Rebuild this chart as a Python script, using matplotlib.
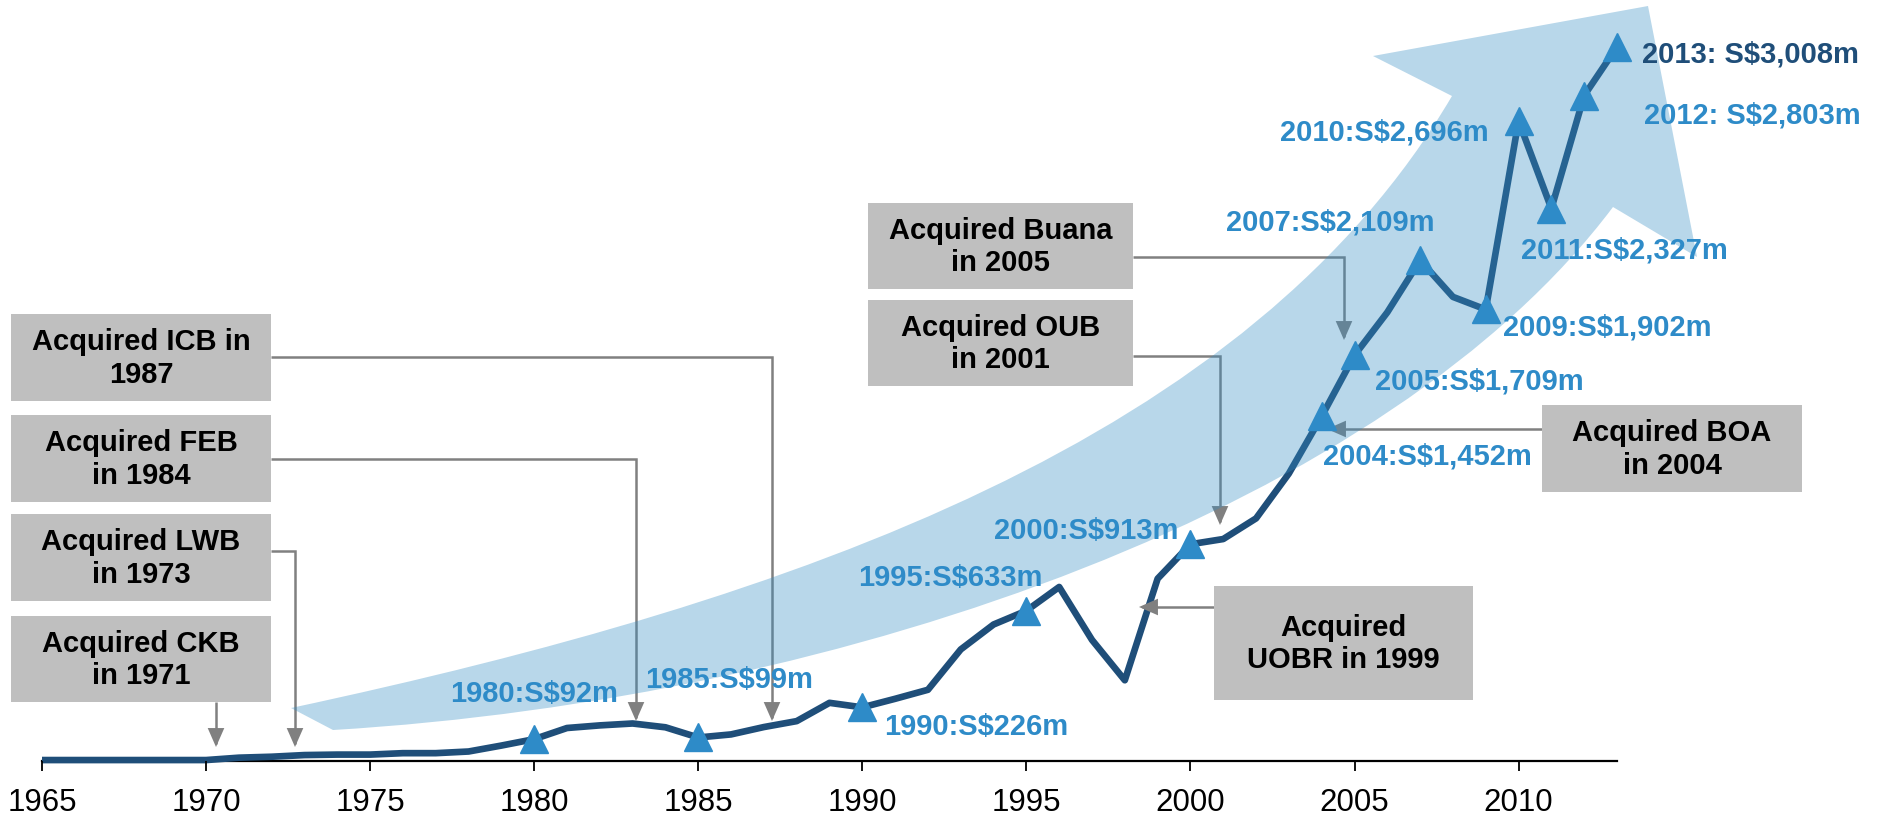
import matplotlib
matplotlib.use("Agg")
import matplotlib.pyplot as plt
from matplotlib.path import Path
from matplotlib.patches import PathPatch, Rectangle, FancyArrowPatch

plt.rcParams['font.family'] = ['Liberation Sans', 'DejaVu Sans']

# ---------------- data ----------------
years = list(range(1965, 2014))
profit = [4, 4, 4, 4, 4, 4, 14, 18, 25, 27,
          27, 33, 33, 40, 65, 92, 139, 150, 158, 142,
          99, 112, 143, 168, 245, 226, 262, 300, 470, 575,
          633, 733, 510, 340, 768, 913, 935, 1022, 1211, 1452,
          1709, 1890, 2109, 1955, 1902, 2696, 2327, 2803, 3008]

marker_years = [1980, 1985, 1990, 1995, 2000, 2004, 2005, 2007, 2009, 2010, 2011, 2012, 2013]
marker_labels = ["1980:S$92m", "1985:S$99m", "1990:S$226m", "1995:S$633m", "2000:S$913m",
                 "2004:S$1,452m", "2005:S$1,709m", "2007:S$2,109m", "2009:S$1,902m",
                 "2010:S$2,696m", "2011:S$2,327m", "2012: S$2,803m", "2013: S$3,008m"]

tick_years = [1965, 1970, 1975, 1980, 1985, 1990, 1995, 2000, 2005, 2010]

box_texts = ["Acquired ICB in\n1987", "Acquired FEB\nin 1984", "Acquired LWB\nin 1973",
             "Acquired CKB\nin 1971", "Acquired Buana\nin 2005", "Acquired OUB\nin 2001",
             "Acquired\nUOBR in 1999", "Acquired BOA\nin 2004"]

# ---------------- layout / style ----------------
W, H = 1879, 820
LINE_C = '#1F4E79'
MARK_C = '#2E8BC8'
BAND_C = '#348DC3'
GRAY_BOX = '#BFBFBF'
GRAY_LN = '#808080'

fig = plt.figure(figsize=(W / 100, H / 100), dpi=100)
ax = fig.add_axes([0, 0, 1, 1])

X0_PX, X1_PX = 42, 1617          # pixel x of 1965 and 2013
ZERO_PX = 762                    # pixel y (from top) of value 0
PPV = 0.2374                     # pixels per S$m
ppy = (X1_PX - X0_PX) / (2013 - 1965)
ax.set_xlim(1965 - X0_PX / ppy, 2013 + (W - X1_PX) / ppy)
ax.set_ylim(-(H - ZERO_PX) / PPV, ZERO_PX / PPV)


def fp(x, y):
    return (x / W, 1 - y / H)


# axis styling
for s in ['top', 'left', 'right']:
    ax.spines[s].set_visible(False)
ax.spines['bottom'].set_position(('data', 0))
ax.spines['bottom'].set_bounds(1965, 2013)
ax.spines['bottom'].set_linewidth(1.6)
ax.spines['bottom'].set_zorder(1)
ax.set_xticks(tick_years)
ax.set_xticklabels([str(t) for t in tick_years],
                   fontfamily=['Liberation Sans Narrow', 'Liberation Sans'],
                   fontsize=22.5)
ax.set_yticks([])
ax.tick_params(axis='x', direction='out', length=7.5, width=1.3, pad=11.5,
               colors='black')

# main line
ax.plot(years, profit, color=LINE_C, lw=4.8, zorder=1.5, solid_joinstyle='round',
        solid_capstyle='butt')

# connectors (elbow arrows), pixel paths
connectors = [
    [(271, 358), (772, 358), (772, 722)],
    [(271, 460), (636, 460), (636, 722)],
    [(271, 552), (295, 552), (295, 748)],
    [(216, 703), (216, 748)],
    [(1133, 258), (1344, 258), (1344, 341)],
    [(1133, 357), (1220, 357), (1220, 526)],
    [(1214, 608), (1139, 608)],
    [(1542, 430), (1327, 430)],
]
for pts in connectors:
    verts = [fp(*p) for p in pts]
    codes = [Path.MOVETO] + [Path.LINETO] * (len(verts) - 1)
    arr = FancyArrowPatch(path=Path(verts, codes),
                          arrowstyle='-|>,head_length=10.5,head_width=4.6',
                          mutation_scale=1, color=GRAY_LN, lw=1.8,
                          transform=fig.transFigure, zorder=1.6,
                          joinstyle='miter', capstyle='butt')
    ax.add_patch(arr)

# big background arrow (semi-transparent band)
A = (291, 709); B = (333, 731)
N1 = (1452, 97); P1 = (1373, 57); T = (1648, 7); P2 = (1697, 258); N2 = (1613, 208)
band_verts = [A, (800, 600), (1250, 440), N1, P1, T, P2, N2,
              (1390, 505), (850, 700), B, A]
band_codes = [Path.MOVETO, Path.CURVE4, Path.CURVE4, Path.CURVE4,
              Path.LINETO, Path.LINETO, Path.LINETO, Path.LINETO,
              Path.CURVE4, Path.CURVE4, Path.CURVE4, Path.CLOSEPOLY]
band = PathPatch(Path([fp(*v) for v in band_verts], band_codes),
                 facecolor=BAND_C, edgecolor='none', alpha=0.35,
                 transform=fig.transFigure, zorder=2)
ax.add_patch(band)

# markers
mvals = [profit[years.index(y)] for y in marker_years]
ax.plot(marker_years, mvals, ls='none', marker='^', ms=20, color=MARK_C,
        mec=MARK_C, zorder=3)

# value labels: (dx, dy_down, ha)
label_offsets = [(-84, -46, 'left'), (-53, -58, 'left'), (22, 19, 'left'),
                 (16, -34, 'right'), (-12, -14, 'right'), (1, 39, 'left'),
                 (20, 25, 'left'), (14, -39, 'right'), (17, 17, 'left'),
                 (-30, 11, 'right'), (-30, 41, 'left'), (60, 19, 'left'),
                 (25, 7, 'left')]
for yr, v, lab, (dx, dy, ha) in zip(marker_years, mvals, marker_labels, label_offsets):
    col = LINE_C if yr == 2013 else MARK_C
    ax.annotate(lab, xy=(yr, v), xytext=(dx, -dy), textcoords='offset pixels',
                ha=ha, va='center', fontsize=21, fontweight='bold', color=col,
                zorder=4)

# gray boxes with text (pixel rectangles: x0, y0, x1, y1)
box_rects = [(11, 315, 271, 402), (11, 416, 271, 503), (11, 515, 271, 602),
             (11, 617, 271, 703), (868, 204, 1133, 290), (868, 301, 1133, 387),
             (1214, 587, 1473, 701), (1542, 406, 1802, 493)]
for (x0, y0, x1, y1), txt in zip(box_rects, box_texts):
    bx, by = fp(x0, y1)
    rect = Rectangle((bx, by), (x1 - x0) / W, (y1 - y0) / H, facecolor=GRAY_BOX,
                     edgecolor='none', transform=fig.transFigure, zorder=3)
    ax.add_patch(rect)
    cx, cy = fp((x0 + x1) / 2, (y0 + y1) / 2)
    ax.text(cx, cy, txt, transform=fig.transFigure, ha='center', va='center',
            fontsize=21, fontweight='bold', color='black', zorder=4,
            linespacing=1.2)

fig.savefig('out.png', dpi=100, facecolor='white')
